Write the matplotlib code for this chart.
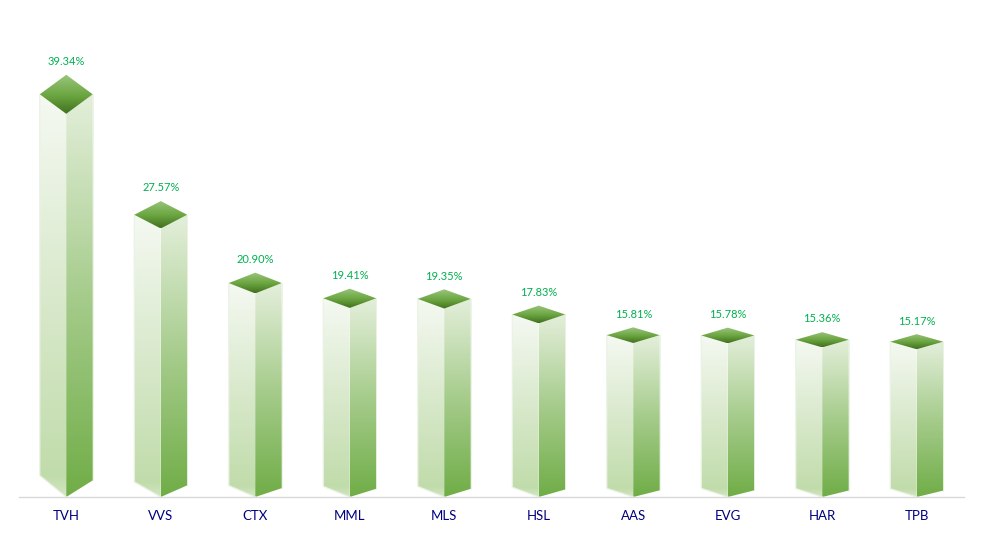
import numpy as np
import matplotlib
matplotlib.use("Agg")
import matplotlib.pyplot as plt
from matplotlib.colors import LinearSegmentedColormap
from matplotlib.patches import Polygon

tickers = ["TVH", "VVS", "CTX", "MML", "MLS", "HSL", "AAS", "EVG", "HAR", "TPB"]
values = [39.34, 27.57, 20.90, 19.41, 19.35, 17.83, 15.81, 15.78, 15.36, 15.17]

plt.rcParams["font.family"] = ["Lato", "DejaVu Sans"]

# gradient stops go from bottom to top of each face
left_cmap = LinearSegmentedColormap.from_list(
    "left", [(0, "#d3e6c5"), (0.05, "#c1dcab"), (0.5, "#d9e9cc"), (1, "#f5f9f2")])
right_cmap = LinearSegmentedColormap.from_list(
    "right", [(0, "#70ad47"), (0.5, "#a6cc8c"), (1, "#e4efdb")])
top_cmap = LinearSegmentedColormap.from_list(
    "top", [(0, "#41701f"), (0.45, "#6aa53f"), (1, "#9cc67f")])

half_w = 0.28
depth = 0.051

fig = plt.figure(figsize=(9.82, 5.33), dpi=100)
ax = fig.add_axes([19 / 982, 36 / 533, 945 / 982, 497 / 533])


def gradient_face(pts, cmap, zorder):
    pts = np.array(pts)
    grad = np.linspace(1, 0, 256).reshape(-1, 1)
    im = ax.imshow(grad, cmap=cmap, vmin=0, vmax=1, aspect="auto", zorder=zorder,
                   interpolation="bilinear",
                   extent=[pts[:, 0].min(), pts[:, 0].max(), pts[:, 1].min(), pts[:, 1].max()])
    poly = Polygon(pts, closed=True, facecolor="none", edgecolor="none", zorder=zorder)
    ax.add_patch(poly)
    im.set_clip_path(poly)


for i, (name, v) in enumerate(zip(tickers, values)):
    d = depth * v
    gradient_face([(i - half_w, v + d), (i, v), (i, 0), (i - half_w, d * 1.1)], left_cmap, 2)
    gradient_face([(i, v), (i + half_w, v + d), (i + half_w, d * 0.85), (i, 0)], right_cmap, 2)
    gradient_face([(i - half_w, v + d), (i, v + 2 * d), (i + half_w, v + d), (i, v)], top_cmap, 3)
    # light rim on the outer edges only
    ax.plot([i - half_w, i - half_w, i], [v + d, d * 1.1, 0], color="#eaf3e3", lw=0.9, zorder=2.5)
    ax.plot([i + half_w, i + half_w], [v + d, d * 0.85], color="#e4efdb", lw=0.7, alpha=0.7, zorder=2.5)
    ax.annotate(f"{v:.2f}%", (i, v + 2 * d), xytext=(0, 5.5), textcoords="offset points",
                ha="center", va="bottom", fontsize=8, color="#00b050")

ax.set_xlim(-0.5, 9.5)
ax.set_ylim(0, 497 / 9.74)
ax.set_xticks(range(len(tickers)))
ax.set_xticklabels(tickers, fontsize=9.5, color="#000080")
ax.tick_params(axis="x", length=0, pad=9)
ax.set_yticks([])
for side in ["top", "left", "right"]:
    ax.spines[side].set_visible(False)
ax.spines["bottom"].set_color("#d9d9d9")
ax.spines["bottom"].set_linewidth(1)
ax.patch.set_alpha(0)

plt.savefig("out.png", dpi=100)
